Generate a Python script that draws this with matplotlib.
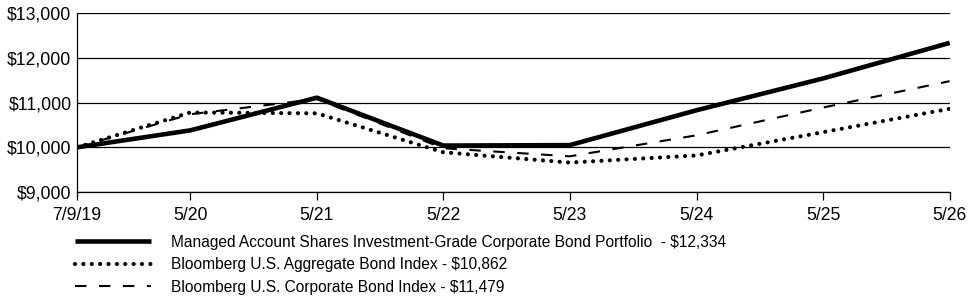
import pandas as pd
import matplotlib.pyplot as plt

dates = pd.to_datetime(['2019-07-09', '2020-05-31', '2021-05-31', '2022-05-31',
                        '2023-05-31', '2024-05-31', '2025-05-31', '2026-05-31'])
tick_labels = ['7/9/19', '5/20', '5/21', '5/22', '5/23', '5/24', '5/25', '5/26']

fund = [10000, 10380, 11110, 10040, 10050, 10830, 11540, 12334]
aggregate = [10000, 10780, 10760, 9890, 9660, 9820, 10340, 10862]
corporate = [10000, 10740, 11080, 9980, 9800, 10270, 10890, 11479]

labels = ['Managed Account Shares Investment-Grade Corporate Bond Portfolio  - $12,334',
          'Bloomberg U.S. Aggregate Bond Index - $10,862',
          'Bloomberg U.S. Corporate Bond Index - $11,479']

plt.rcParams['font.family'] = ['Liberation Sans', 'DejaVu Sans']

fig = plt.figure(figsize=(9.75, 3.04), dpi=100)
ax = fig.add_axes([0.079, 0.368, 0.895, 0.589])

l1, = ax.plot(dates, fund, color='black', lw=3.3, solid_capstyle='butt')
l2, = ax.plot(dates, aggregate, color='black', lw=3, linestyle=(0, (0.01, 2.0)),
              dash_capstyle='round')
l3, = ax.plot(dates, corporate, color='black', lw=1.5, linestyle=(0, (5.5, 6)))

ax.set_xlim(dates[0], dates[-1])
ax.set_ylim(9000, 13000)
ax.set_yticks([9000, 10000, 11000, 12000, 13000])
ax.set_yticklabels(['$9,000', '$10,000', '$11,000', '$12,000', '$13,000'])
ax.set_xticks(dates)
ax.set_xticklabels(tick_labels)
ax.yaxis.grid(True, color='black', lw=0.9)
ax.set_axisbelow(True)
ax.tick_params(axis='y', length=0, pad=4, labelsize=12.7)
ax.tick_params(axis='x', length=5.5, width=0.9, direction='out', pad=5, labelsize=12.7)
for s in ['top', 'right']:
    ax.spines[s].set_visible(False)
for s in ['left', 'bottom']:
    ax.spines[s].set_linewidth(0.9)

fig.legend([l1, l2, l3], labels, loc='upper left', bbox_to_anchor=(0.077, 0.228),
           frameon=False, handlelength=4.9, handletextpad=1.28, labelspacing=0.48,
           fontsize=11.2, borderaxespad=0, borderpad=0)

fig.savefig('out.png', dpi=100)
